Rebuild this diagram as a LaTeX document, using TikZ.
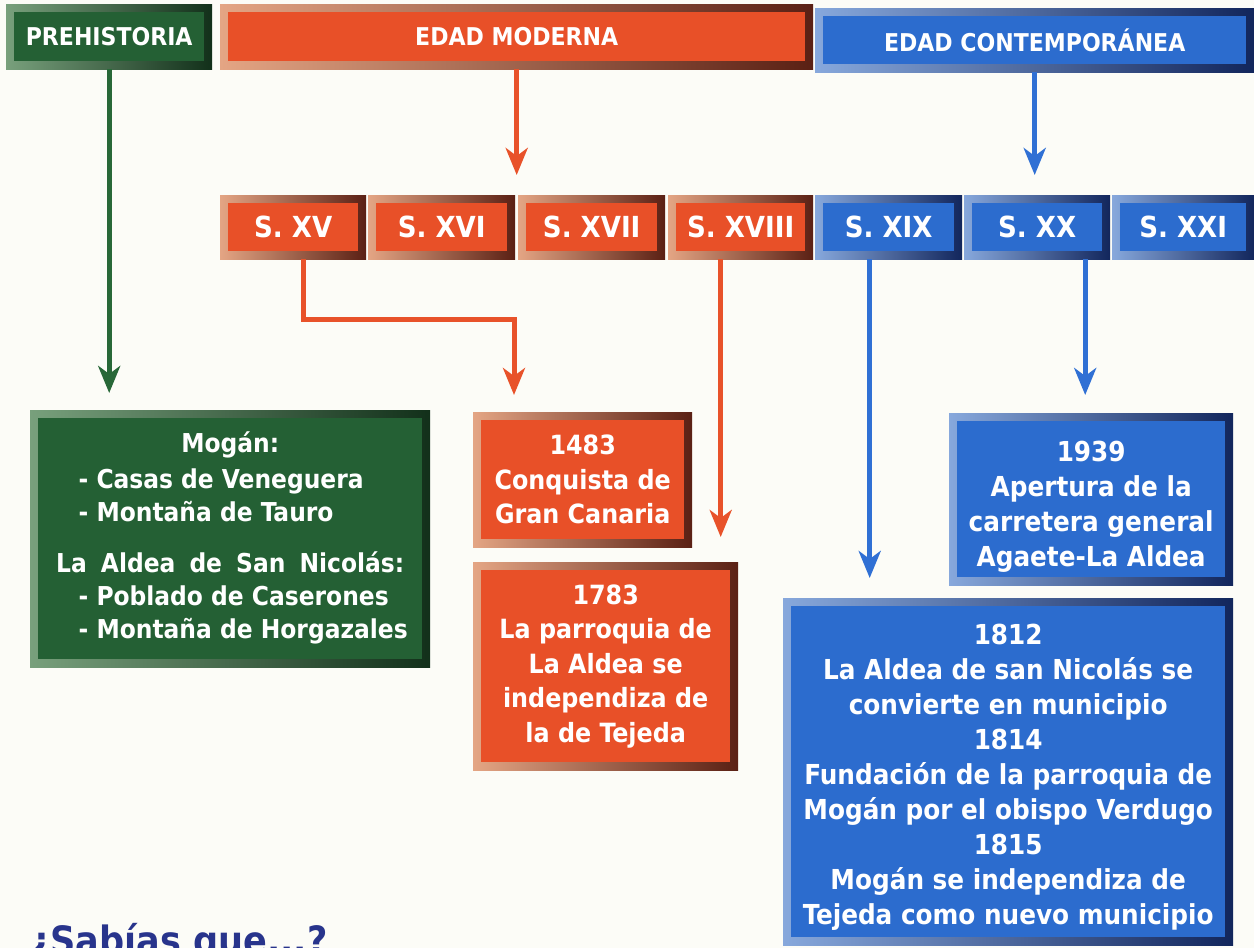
\documentclass[tikz,border=0pt]{standalone}
\usepackage{fontspec}
\setmainfont{DejaVu Sans Condensed}
\usetikzlibrary{arrows.meta}
\definecolor{bg}{RGB}{252,252,247}
\definecolor{gfill}{RGB}{36,96,52}
\definecolor{glight}{RGB}{120,160,124}
\definecolor{gdark}{RGB}{18,48,26}
\definecolor{rfill}{RGB}{232,80,40}
\definecolor{rlight}{RGB}{228,165,132}
\definecolor{rdark}{RGB}{90,32,20}
\definecolor{bfill}{RGB}{44,108,206}
\definecolor{blight}{RGB}{135,168,220}
\definecolor{bdark}{RGB}{18,38,92}
\definecolor{garrc}{RGB}{40,104,56}
\definecolor{rarrc}{RGB}{232,82,42}
\definecolor{barrc}{RGB}{48,112,212}
\definecolor{sabblue}{RGB}{40,52,140}
\newcommand\hdrfont{\fontsize{24.5}{28}\selectfont\bfseries}
\newcommand\secfont{\fontsize{29}{32}\selectfont\bfseries}
\newcommand\greenfont{\fontsize{26}{33}\selectfont\bfseries}
\newcommand\redfont{\fontsize{26.5}{34.5}\selectfont\bfseries}
\newcommand\bluefont{\fontsize{27.5}{35}\selectfont\bfseries}
\newcommand\ind{\hspace*{26pt}}
\tikzset{
  bev/.style n args={3}{left color=#1, right color=#3,
    path picture={\fill[#2] ([shift={(8pt,-8pt)}]path picture bounding box.north west)
      rectangle ([shift={(-8pt,8pt)}]path picture bounding box.south east);},
    text=white, inner sep=0pt, anchor=north west, align=center},
  gbox/.style={bev={glight}{gfill}{gdark}},
  rbox/.style={bev={rlight}{rfill}{rdark}},
  bbox/.style={bev={blight}{bfill}{bdark}},
  hdr/.style={font=\hdrfont, minimum height=65pt},
  sec/.style={font=\secfont, minimum height=64pt},
  arr/.style={line width=5pt, draw=#1, -{Stealth[length=27pt,width=22pt,inset=8pt]}},
}
\begin{document}
\begin{tikzpicture}[x=1pt,y=-1pt]
\useasboundingbox (0,0) rectangle (1254,948);
\clip (0,0) rectangle (1254,948);
\fill[bg] (0,0) rectangle (1254,948);

% headers
\node[gbox, hdr, minimum width=206pt] (preh) at (6,4) {PREHISTORIA};
\node[rbox, hdr, minimum width=593pt] (moderna) at (220,4) {EDAD MODERNA};
\node[bbox, hdr, minimum width=439pt, minimum height=64pt] (contemp) at (815,8) {EDAD CONTEMPORÁNEA};

% centuries
\node[rbox, sec, minimum width=146pt] (sxv) at (220,195) {S. XV};
\node[rbox, sec, minimum width=147pt] (sxvi) at (368,195) {S. XVI};
\node[rbox, sec, minimum width=147pt] (sxvii) at (518,195) {S. XVII};
\node[rbox, sec, minimum width=145pt] (sxviii) at (668,195) {S. XVIII};
\node[bbox, sec, minimum width=147pt] (sxix) at (815,195) {S. XIX};
\node[bbox, sec, minimum width=146pt] (sxx) at (964,195) {S. XX};
\node[bbox, sec, minimum width=142pt] (sxxi) at (1112,195) {S. XXI};

% content boxes
\node[gbox, font=\greenfont, minimum width=400pt, minimum height=257pt] (gbig) at (30,410)
 {\begin{tabular}{@{}l@{}}\multicolumn{1}{@{}c@{}}{Mogán:}\\[3pt]
  \ind- Casas de Veneguera\\
  \ind- Montaña de Tauro\\[18pt]
  \multicolumn{1}{@{}c@{}}{\makebox[348pt][s]{La Aldea de San Nicolás:}}\\
  \ind- Poblado de Caserones\\
  \ind- Montaña de Horgazales\end{tabular}};
\node[rbox, font=\redfont, minimum width=219pt, minimum height=135pt] (b1483) at (473,412)
 {1483\\Conquista de\\Gran Canaria};
\node[rbox, font=\redfont, minimum width=265pt, minimum height=208pt] (b1783) at (473,562)
 {1783\\La parroquia de\\La Aldea se\\independiza de\\la de Tejeda};
\node[bbox, font=\bluefont, minimum width=284pt, minimum height=172pt] (b1939) at (949,413)
 {\rule{0pt}{36pt}1939\\Apertura de la\\carretera general\\Agaete-La Aldea};
\node[bbox, font=\bluefont, minimum width=450pt, minimum height=347pt] (bbig) at (783,598)
 {\rule{0pt}{31pt}1812\\La Aldea de san Nicolás se\\convierte en municipio\\1814\\Fundación de la parroquia de\\Mogán por el obispo Verdugo\\1815\\Mogán se independiza de\\Tejeda como nuevo municipio};

% connectors
\coordinate (c15) at (514,319);
\draw[arr=garrc, shorten >=17pt] (preh.south) -- (preh.south |- gbig.north);
\draw[arr=rarrc, shorten >=20pt] (moderna.south) -- (moderna.south |- sxvi.north);
\draw[arr=barrc, shorten >=20pt] (contemp.south) -- (contemp.south |- sxx.north);
\draw[arr=rarrc, shorten >=17pt] ([xshift=10pt]sxv.south) |- (c15) -- (c15 |- b1483.north);
\draw[arr=rarrc, shorten >=25pt] ([xshift=-20pt]sxviii.south) -- ([xshift=-20pt]sxviii.south |- b1783.north);
\draw[arr=barrc, shorten >=20pt] ([xshift=-19pt]sxix.south) -- ([xshift=-19pt]sxix.south |- bbig.north);
\draw[arr=barrc, shorten >=18pt] ([xshift=48pt]sxx.south) -- ([xshift=48pt]sxx.south |- b1939.north);

% bottom text
\node[anchor=base west, inner sep=0pt, text=sabblue, font=\fontsize{39}{44}\selectfont\bfseries] (sab) at (30,954) {¿Sabías que...?};
\end{tikzpicture}
\end{document}
